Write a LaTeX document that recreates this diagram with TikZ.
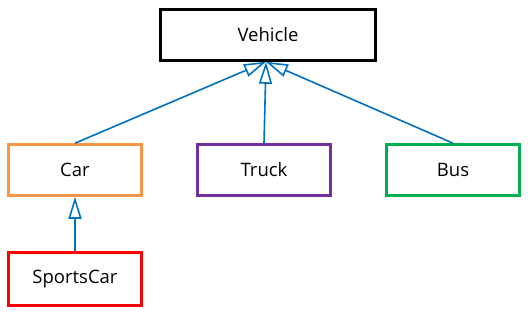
\documentclass[tikz,border=0pt]{standalone}
\usepackage{fontspec}
\setmainfont{Open Sans}
\usetikzlibrary{arrows.meta}
\definecolor{linkblue}{HTML}{0070C0}
\definecolor{carorange}{HTML}{F79646}
\definecolor{truckpurple}{HTML}{7030A0}
\definecolor{busgreen}{HTML}{00B050}
\begin{document}
\begin{tikzpicture}[x=1pt,y=1pt,
    cls/.style={draw,line width=2.6pt,minimum width=133pt,minimum height=51pt,
      inner sep=1pt,font=\fontsize{18.5}{22}\selectfont},
    isa/.style={draw=linkblue,line width=1.6pt,-{Triangle[open,length=22pt,width=13pt]}}]
  \useasboundingbox (0,0) rectangle (528,315);
  \node[cls,minimum width=215pt] (veh) at (268,280) {Vehicle};
  \node[cls,draw=carorange] (car) at (75,145) {Car};
  \node[cls,draw=truckpurple] (truck) at (264,145) {Truck};
  \node[cls,draw=busgreen] (bus) at (453,145) {Bus};
  \node[cls,draw=red,minimum height=53pt] (sport) at (75,36) {SportsCar};
  \foreach \n in {car,truck,bus}{\draw[isa] (\n.north) -- ([xshift=-2pt]veh.south);}
  \draw[isa] (sport.north) -- (car.south);
\end{tikzpicture}
\end{document}
